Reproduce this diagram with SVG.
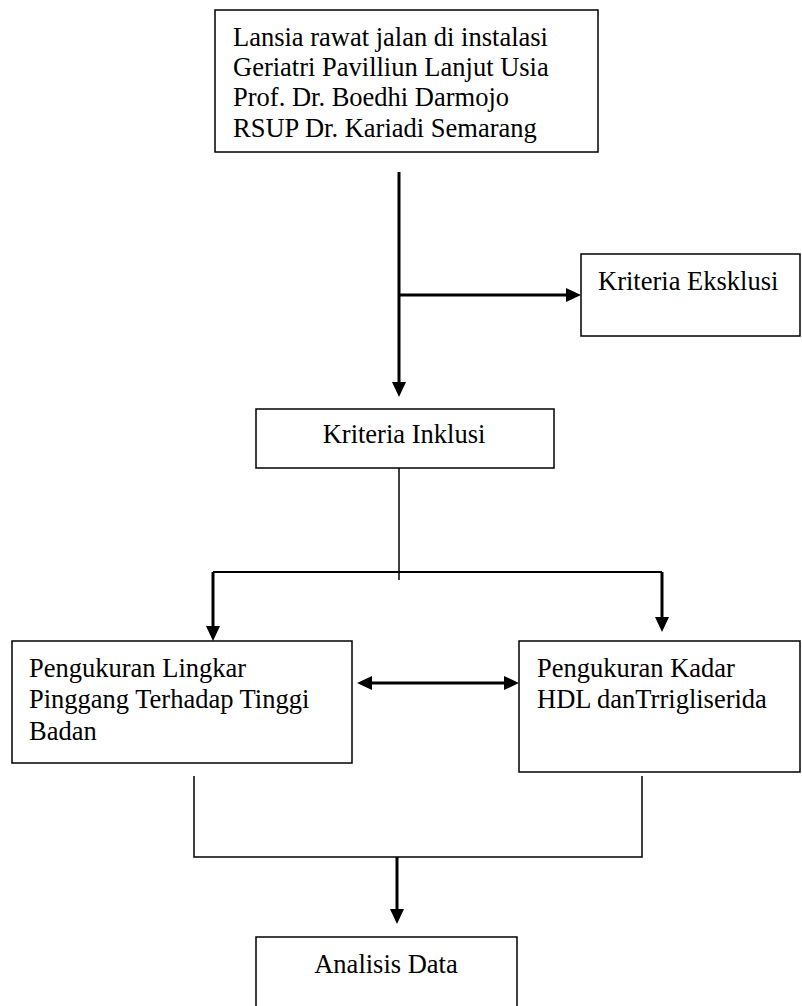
<svg xmlns="http://www.w3.org/2000/svg" width="802" height="1006" viewBox="0 0 802 1006">
<style>
.box{fill:#fff;stroke:#000;stroke-width:1.5}
.t{font-family:"Liberation Serif","Times New Roman",serif;font-size:26.5px;fill:#000}
.thick{fill:none;stroke:#000;stroke-width:3}
.thin{fill:none;stroke:#000;stroke-width:1.5}
.mid{fill:none;stroke:#000;stroke-width:2}
</style>
<defs>
<marker id="ah" viewBox="0 -7 15 14" markerWidth="15" markerHeight="14" refX="0" refY="0" orient="auto-start-reverse" markerUnits="userSpaceOnUse">
<path d="M0,-7 L15,0 L0,7 z" fill="#000"/>
</marker>
</defs>
<rect width="802" height="1006" fill="#fff"/>
<g id="connectors">
<path class="thick" d="M399,172 V382" marker-end="url(#ah)"/>
<path class="thick" d="M399,295 H566" marker-end="url(#ah)"/>
<path class="thin" d="M399,468 V580"/>
<path class="mid" d="M213,572 H662"/>
<path class="thick" d="M213,572 V626" marker-end="url(#ah)"/>
<path class="thick" d="M662,572 V617" marker-end="url(#ah)"/>
<path class="thick" d="M372,683 H504" marker-start="url(#ah)" marker-end="url(#ah)"/>
<path class="thin" d="M194,776 V857 H642 V776"/>
<path class="thick" d="M397,857 V909" marker-end="url(#ah)"/>
</g>
<g id="node-lansia">
<rect class="box" x="215" y="10" width="383" height="142"/>
<text class="t" x="233" y="46">Lansia rawat jalan di instalasi</text>
<text class="t" x="233" y="76">Geriatri Pavilliun Lanjut Usia</text>
<text class="t" x="233" y="106">Prof. Dr. Boedhi Darmojo</text>
<text class="t" x="233" y="137">RSUP Dr. Kariadi Semarang</text>
</g>
<g id="node-eksklusi">
<rect class="box" x="581" y="254" width="219" height="82"/>
<text class="t" x="598" y="290">Kriteria Eksklusi</text>
</g>
<g id="node-inklusi">
<rect class="box" x="256" y="409" width="298" height="59"/>
<text class="t" x="404" y="443" text-anchor="middle">Kriteria Inklusi</text>
</g>
<g id="node-lingkar">
<rect class="box" x="12" y="641" width="340" height="122"/>
<text class="t" x="29" y="677">Pengukuran Lingkar</text>
<text class="t" x="29" y="708">Pinggang Terhadap Tinggi</text>
<text class="t" x="29" y="740">Badan</text>
</g>
<g id="node-hdl">
<rect class="box" x="519" y="641" width="281" height="131"/>
<text class="t" x="537" y="677">Pengukuran Kadar</text>
<text class="t" x="537" y="708">HDL danTrrigliserida</text>
</g>
<g id="node-analisis">
<rect class="box" x="256" y="937" width="261" height="80"/>
<text class="t" x="386" y="973" text-anchor="middle">Analisis Data</text>
</g>
</svg>
